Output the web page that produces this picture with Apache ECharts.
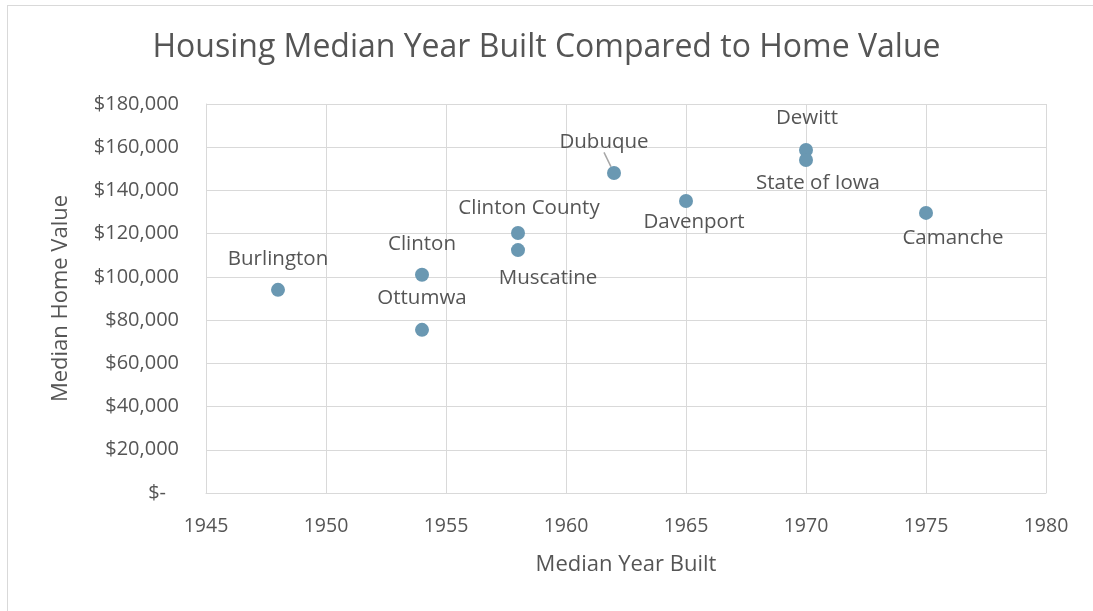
<!DOCTYPE html>
<html>
<head>
<meta charset="utf-8">
<script src="https://cdn.jsdelivr.net/npm/echarts@6/dist/echarts.min.js"></script>
<style>
  html, body { margin: 0; padding: 0; background: #fff; }
  #frame {
    position: absolute; left: 7px; top: 5px; right: 0; bottom: 0;
    border-left: 1px solid #d9d9d9; border-top: 1px solid #d9d9d9;
  }
  #chart { position: absolute; left: 0; top: 0; width: 1093px; height: 611px; }
</style>
</head>
<body>
<div id="frame"></div>
<div id="chart"></div>
<script>
// places and values
const places = ['Burlington', 'Clinton', 'Ottumwa', 'Clinton County', 'Muscatine',
  'Dubuque', 'Davenport', 'Dewitt', 'State of Iowa', 'Camanche']
const yearBuilt = [1948, 1954, 1954, 1958, 1958, 1962, 1965, 1970, 1970, 1975]
const homeValue = [94000, 101000, 75500, 120300, 112400, 148100, 135100, 158700, 154100, 129600]

// where each label sits relative to its point
const labelOffsets = [
  [0, -31], [0, -31], [0, -32], [11, -25], [30, 28],
  [-10, -31], [8, 21], [1, -32], [12, 23], [27, 25]
]

const textColor = '#555555'
const gridColor = '#d9d9d9'
const font = '"Open Sans", sans-serif'

const chart = echarts.init(document.getElementById('chart'))

const points = places.map((name, i) => ({
  name: name,
  value: [yearBuilt[i], homeValue[i]],
  label: { offset: labelOffsets[i] },
  labelLine: { show: name === 'Dubuque' }
}))

chart.setOption({
  animation: false,
  textStyle: { fontFamily: font },
  title: {
    text: 'Housing Median Year Built Compared to Home Value',
    left: 'center',
    top: 27,
    textStyle: { color: textColor, fontSize: 32, fontWeight: 'normal', fontFamily: font }
  },
  grid: { left: 206, right: 47, top: 104, bottom: 118 },
  xAxis: {
    type: 'value',
    min: 1945,
    max: 1980,
    interval: 5,
    name: 'Median Year Built',
    nameLocation: 'middle',
    nameGap: 61,
    nameTextStyle: { color: textColor, fontSize: 22, fontFamily: font },
    axisLine: { show: true, lineStyle: { color: gridColor } },
    axisTick: { show: false },
    axisLabel: {
      color: textColor, fontSize: 19.5, margin: 23, fontFamily: font,
      formatter: v => String(v)
    },
    splitLine: { show: true, lineStyle: { color: gridColor } }
  },
  yAxis: {
    type: 'value',
    min: 0,
    max: 180000,
    interval: 20000,
    name: 'Median Home Value',
    nameLocation: 'middle',
    nameGap: 134,
    nameTextStyle: { color: textColor, fontSize: 22, fontFamily: font },
    axisLine: { show: true, lineStyle: { color: gridColor } },
    axisTick: { show: false },
    axisLabel: {
      color: textColor,
      fontSize: 20,
      margin: 27,
      fontFamily: font,
      formatter: v => v === 0 ? '{z|$-}' : '$' + v.toLocaleString('en-US'),
      rich: { z: { color: textColor, fontSize: 20, fontFamily: font, padding: [0, 13, 0, 0] } }
    },
    splitLine: { show: true, lineStyle: { color: gridColor } }
  },
  series: [{
    type: 'scatter',
    symbolSize: 14,
    itemStyle: { color: '#6a98b2', opacity: 1 },
    label: {
      show: true,
      position: 'inside',
      formatter: '{b}',
      color: textColor,
      fontSize: 20.5,
      fontFamily: font
    },
    labelLine: { lineStyle: { color: '#a6a6a6', width: 1.5 } },
    data: points
  }]
})
</script>
</body>
</html>
